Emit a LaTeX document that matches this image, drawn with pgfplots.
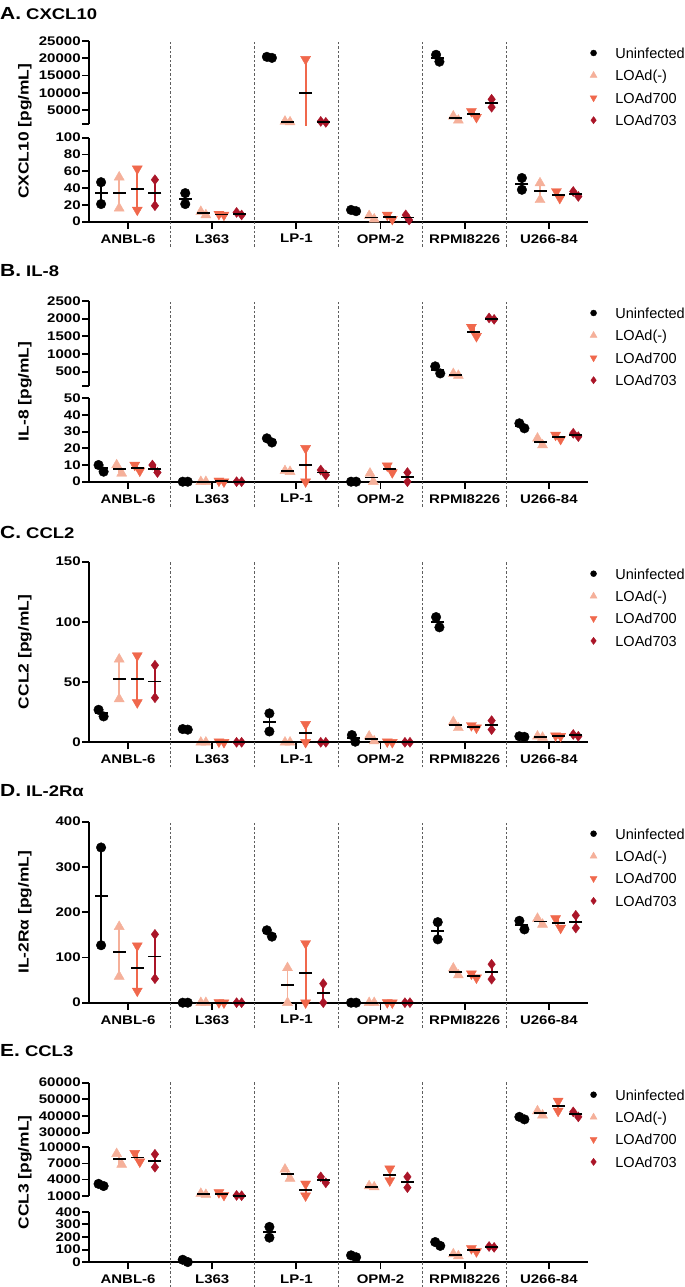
\documentclass[border=0pt]{standalone}
\usepackage{fontspec}
\setmainfont{Liberation Sans}
\newfontfamily\wfont{Liberation Sans}[FakeStretch=1.2]
\usepackage{pgfplots}
\usepackage{pgfplotstable}
\pgfplotsset{compat=1.18}

\definecolor{cM}{HTML}{F5B09A}
\definecolor{cS}{HTML}{F0684C}
\definecolor{cT}{HTML}{AA1528}
\definecolor{sepc}{HTML}{5E5E5E}

\newcommand{\tickfont}{\wfont\bfseries\fontsize{12.5bp}{14bp}\selectfont}
\newcommand{\legfont}{\fontsize{14.5bp}{16bp}\selectfont}
\newcommand{\ylabfont}{\wfont\bfseries\fontsize{14.5bp}{17bp}\selectfont}
\newcommand{\ttlA}{\wfont\bfseries\fontsize{17.5bp}{20bp}\selectfont}
\newcommand{\ttlB}{\wfont\bfseries\fontsize{15.4bp}{18bp}\selectfont}

\pgfplotsset{
  legend image code/.code={\draw[#1] plot coordinates {(0bp,0bp)};},
  seg/.style={scale only axis, width=499.1bp, xmin=-0.46, xmax=5.47,
    anchor=south west, clip=false, scaled y ticks=false,
    axis line style={line width=1.8bp, black},
    tick style={line width=1.8bp, black},
    tick align=outside, major tick length=7bp,
    yticklabel style={font=\tickfont, inner sep=1.5bp},
    xticklabel style={font=\tickfont, inner sep=1.5bp, yshift=-4bp},
    axis y line*=left},
  upper/.style={seg, axis x line=none, xtick=\empty},
  lower/.style={seg, axis x line*=bottom, xtick={0,1,2,3,4,5},
    xticklabels={ANBL-6,L363,LP-1,OPM-2,RPMI8226,U266-84}},
  leg/.style={legend cell align=left, legend style={draw=none, fill=none,
    inner sep=0pt, outer sep=0pt, at={(1,1)}, anchor=north west,
    xshift=1.7bp, yshift=-6.5bp, row sep=11.4bp, column sep=18.4bp,
    font=\legfont, nodes={inner sep=0pt, text height=11bp, text depth=0pt}}},
  gU/.style={black, mark=*, mark size=4.8bp},
  gM/.style={cM, mark=triangle*, mark size=5.8bp},
  gS/.style={cS, mark=triangle*, mark size=5.8bp, mark options={rotate=180}},
  gT/.style={cT, mark=diamond*, mark size=5bp},
}

\newcommand{\grp}[4]{%
  \addplot[forget plot, only marks, #2] table[x expr={\thisrow{c}+#3-\thisrow{j}}, y=a]{#1};
  \addplot[forget plot, only marks, #2] table[x expr={\thisrow{c}+#3+\thisrow{j}}, y=b]{#1};
  \addplot[forget plot, only marks, black, mark=-, mark size=6.5bp,
    mark options={line width=1.9bp},
    error bars/.cd, y dir=both, y explicit, error mark=none,
    error bar style={line width=1.8bp, #4}]
    table[x expr={\thisrow{c}+#3}, y expr={(\thisrow{a}+\thisrow{b})/2},
      y error expr={abs(\thisrow{a}-\thisrow{b})/2}]{#1};
}
\newcommand{\allg}[4]{\grp{#1}{gU}{-0.32}{black}\grp{#2}{gM}{-0.105}{cM}\grp{#3}{gS}{0.11}{cS}\grp{#4}{gT}{0.32}{cT}}
\newcommand{\sepline}{\pgfplotsinvokeforeach{0.5,1.5,2.5,3.5,4.5}{\draw[sepc, line width=0.8bp, dash pattern=on 2.5bp off 2bp] (axis cs:##1,0) ++(0bp,-25bp) -- ++(0bp,205.6bp);}}
\newcommand{\legimgs}{%
  \addlegendimage{black, mark=*, mark size=3bp}\addlegendentry{Uninfected}
  \addlegendimage{cM, mark=triangle*, mark size=4bp}\addlegendentry{LOAd(-)}
  \addlegendimage{cS, mark=triangle*, mark size=4bp, mark options={rotate=180}}\addlegendentry{LOAd700}
  \addlegendimage{cT, mark=diamond*, mark size=3.6bp}\addlegendentry{LOAd703}}

% ---------- Panel A: CXCL10 ----------
\pgfplotstableread{
c a b j
0 47 21 0
1 34 21 0
2 20400 20100 0.03
3 14 12.5 0.03
4 21000 19000 0.02
5 52 38 0
}\tAu
\pgfplotstableread{
c a b j
0 53 16 0
1 12 8 0.03
2 1700 1500 0.03
3 7 3 0.03
4 3200 2000 0.03
5 46 26 0
}\tAm
\pgfplotstableread{
c a b j
0 63 14 0
1 9 8 0.03
2 19700 300 0
3 8 3 0.03
4 4600 2900 0.03
5 36 28 0.02
}\tAs
\pgfplotstableread{
c a b j
0 50 19 0
1 11 8 0.03
2 1700 1400 0.03
3 8 2 0.02
4 8100 5800 0
5 36 30 0.03
}\tAt
% ---------- Panel B: IL-8 ----------
\pgfplotstableread{
c a b j
0 10 6 0.03
1 0 0 0.03
2 26 23.5 0.03
3 0 0 0.03
4 650 450 0.03
5 35 32 0.03
}\tBu
\pgfplotstableread{
c a b j
0 10 5 0.03
1 0 0 0.03
2 6.5 6 0.03
3 5 0 0.02
4 440 390 0.03
5 26 22 0.03
}\tBm
\pgfplotstableread{
c a b j
0 10 6.5 0.03
1 0.5 0 0.03
2 20 0 0
3 9.5 5.5 0.03
4 1760 1500 0.03
5 28 25.5 0.03
}\tBs
\pgfplotstableread{
c a b j
0 10 5.5 0.03
1 0 0 0.03
2 7 4 0.03
3 5.5 0 0
4 2020 1980 0.03
5 29 27 0.03
}\tBt
% ---------- Panel C: CCL2 ----------
\pgfplotstableread{
c a b j
0 27 21.5 0.03
1 11 10.5 0.03
2 24 9 0
3 6 0.5 0.02
4 104 95.5 0.02
5 5 4.5 0.03
}\tCu
\pgfplotstableread{
c a b j
0 69 36 0
1 0 0 0.03
2 0 0 0.03
3 5 1 0.03
4 17 12 0.03
5 5 4 0.03
}\tCm
\pgfplotstableread{
c a b j
0 72 33 0
1 0.5 0 0.03
2 15 0 0
3 0.5 0 0.03
4 14 12 0.03
5 5.5 5 0.03
}\tCs
\pgfplotstableread{
c a b j
0 64 37 0
1 0 0 0.03
2 0 0 0.03
3 0 0 0.03
4 18 10.5 0
5 6.5 5 0.03
}\tCt
% ---------- Panel D: IL-2Ra ----------
\pgfplotstableread{
c a b j
0 343 127 0
1 0 0 0.03
2 160 146 0.03
3 0 0 0.03
4 178 140 0
5 181 162 0.03
}\tDu
\pgfplotstableread{
c a b j
0 168 58 0
1 0 0 0.03
2 77 0 0
3 0 0 0.03
4 76 61 0.03
5 186 173 0.03
}\tDm
\pgfplotstableread{
c a b j
0 126 26 0
1 0.5 0 0.03
2 131 0 0
3 0.5 0 0.03
4 64 55 0.03
5 186 165 0.03
}\tDs
\pgfplotstableread{
c a b j
0 151 53 0
1 0 0 0.03
2 42 0 0
3 0 0 0.03
4 85 52 0
5 193 165 0
}\tDt
% ---------- Panel E: CCL3 ----------
\pgfplotstableread{
c a b j
0 3200 2800 0.03
1 20 2 0.03
2 280 195 0
3 55 40 0.03
4 160 130 0.03
5 39500 38000 0.03
}\tEu
\pgfplotstableread{
c a b j
0 8800 6800 0.03
1 1400 1200 0.03
2 5900 4200 0.03
3 2800 2600 0.03
4 65 50 0.03
5 43000 40500 0.03
}\tEm
\pgfplotstableread{
c a b j
0 8900 7300 0.03
1 1600 1100 0.03
2 3200 1000 0
3 6000 3800 0
4 110 85 0.03
5 49000 43000 0
}\tEs
\pgfplotstableread{
c a b j
0 8700 6300 0
1 1050 1000 0.03
2 4500 3400 0.03
3 4500 2500 0
4 125 118 0.03
5 42500 39500 0.03
}\tEt

\begin{document}
\begin{tikzpicture}
\path[use as bounding box] (0,0) rectangle (685bp,1287bp);
\clip (0,0) rectangle (685bp,1287bp);

% ===== A =====
\begin{axis}[lower, at={(89.3bp,1065.3bp)}, height=84bp, ymin=0, ymax=100,
  ytick={0,20,40,60,80,100}, yticklabels={0,20,40,60,80,100}, restrict y to domain=-10:200]
  \sepline
  \allg{\tAu}{\tAm}{\tAs}{\tAt}
\end{axis}
\begin{axis}[upper, leg, at={(89.3bp,1163.2bp)}, height=82.8bp, ymin=1000, ymax=25000,
  ytick={1000,5000,10000,15000,20000,25000}, yticklabels={,5000,10000,15000,20000,25000},
  restrict y to domain=900:30000]
  \allg{\tAu}{\tAm}{\tAs}{\tAt}
  \legimgs
\end{axis}

% ===== B =====
\begin{axis}[lower, at={(89.3bp,805.3bp)}, height=83.4bp, ymin=0, ymax=50,
  ytick={0,10,20,30,40,50}, yticklabels={0,10,20,30,40,50}, restrict y to domain=-10:90]
  \sepline
  \allg{\tBu}{\tBm}{\tBs}{\tBt}
\end{axis}
\begin{axis}[upper, leg, at={(89.3bp,901.2bp)}, height=84.8bp, ymin=100, ymax=2500,
  ytick={100,500,1000,1500,2000,2500}, yticklabels={,500,1000,1500,2000,2500},
  restrict y to domain=90:3000]
  \allg{\tBu}{\tBm}{\tBs}{\tBt}
  \legimgs
\end{axis}

% ===== C =====
\begin{axis}[lower, leg, at={(89.3bp,544.7bp)}, height=180.6bp, ymin=0, ymax=150,
  ytick={0,50,100,150}, yticklabels={0,50,100,150}]
  \sepline
  \allg{\tCu}{\tCm}{\tCs}{\tCt}
  \legimgs
\end{axis}

% ===== D =====
\begin{axis}[lower, leg, at={(89.3bp,284.3bp)}, height=181bp, ymin=0, ymax=400,
  ytick={0,100,200,300,400}, yticklabels={0,100,200,300,400}]
  \sepline
  \allg{\tDu}{\tDm}{\tDs}{\tDt}
  \legimgs
\end{axis}

% ===== E =====
\begin{axis}[lower, at={(89.3bp,24.7bp)}, height=50.6bp, ymin=0, ymax=400,
  ytick={0,100,200,300,400}, yticklabels={0,100,200,300,400}, restrict y to domain=-10:600]
  \sepline
  \allg{\tEu}{\tEm}{\tEs}{\tEt}
\end{axis}
\begin{axis}[upper, at={(89.3bp,91.3bp)}, height=48.4bp, ymin=1000, ymax=10000,
  ytick={1000,4000,7000,10000}, yticklabels={1000,4000,7000,10000}, restrict y to domain=900:11000]
  \allg{\tEu}{\tEm}{\tEs}{\tEt}
\end{axis}
\begin{axis}[upper, leg, at={(89.3bp,154.3bp)}, height=50bp, ymin=30000, ymax=60000,
  ytick={30000,40000,50000,60000}, yticklabels={30000,40000,50000,60000},
  restrict y to domain=20000:70000]
  \allg{\tEu}{\tEm}{\tEs}{\tEt}
  \legimgs
\end{axis}

% ===== titles and y labels =====
\node[anchor=base west, inner sep=0pt] at (0bp,1267.7bp) {\ttlA A.\hspace{5bp}\ttlB CXCL10};
\node[anchor=base west, inner sep=0pt] at (0bp,1010.3bp) {\ttlA B.\hspace{5bp}\ttlB IL-8};
\node[anchor=base west, inner sep=0pt] at (0bp,748.7bp) {\ttlA C.\hspace{5bp}\ttlB CCL2};
\node[anchor=base west, inner sep=0pt] at (0bp,490.3bp) {\ttlA D.\hspace{5bp}\ttlB IL-2Rα};
\node[anchor=base west, inner sep=0pt] at (0bp,230.3bp) {\ttlA E.\hspace{5bp}\ttlB CCL3};

\node[rotate=90, inner sep=0pt, font=\ylabfont] at (25bp,1155.7bp) {CXCL10 [pg/mL]};
\node[rotate=90, inner sep=0pt, font=\ylabfont] at (25bp,895.6bp) {IL-8 [pg/mL]};
\node[rotate=90, inner sep=0pt, font=\ylabfont] at (25bp,635bp) {CCL2 [pg/mL]};
\node[rotate=90, inner sep=0pt, font=\ylabfont] at (25bp,374.8bp) {IL-2Rα [pg/mL]};
\node[rotate=90, inner sep=0pt, font=\ylabfont] at (25bp,114.5bp) {CCL3 [pg/mL]};
\end{tikzpicture}
\end{document}
